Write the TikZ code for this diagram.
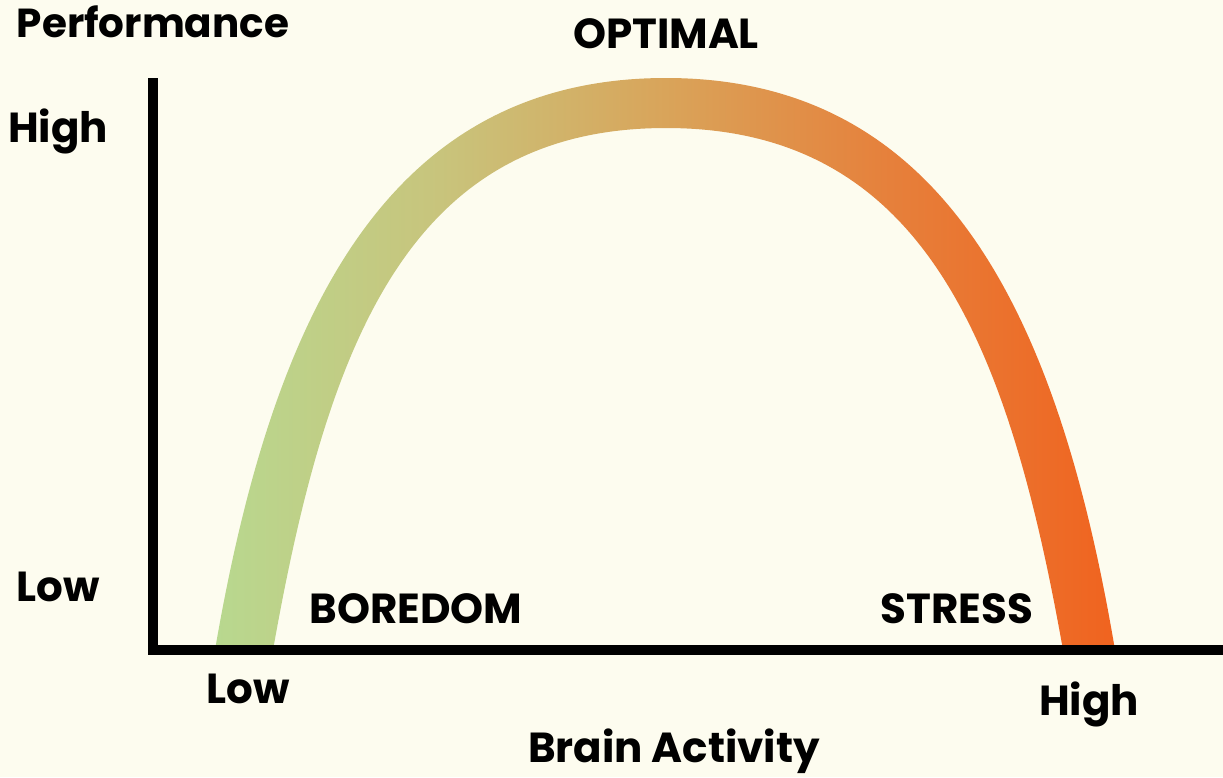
\documentclass[tikz,border=0pt]{standalone}
\usepackage{fontspec}
\setmainfont{Poppins}
\usetikzlibrary{positioning}
\definecolor{PaperCream}{HTML}{FDFCEF}
\definecolor{ArchGreen}{HTML}{B8D88F}
\definecolor{ArchOlive}{HTML}{C8C47C}
\definecolor{ArchTan}{HTML}{D9A45A}
\definecolor{ArchOrange}{HTML}{E6803B}
\definecolor{ArchRed}{HTML}{F0631F}
\pgfdeclarehorizontalshading{archgrad}{100bp}{color(0bp)=(ArchGreen); color(25bp)=(ArchGreen); color(37.5bp)=(ArchOlive); color(50bp)=(ArchTan); color(62.5bp)=(ArchOrange); color(75bp)=(ArchRed); color(100bp)=(ArchRed)}
\tikzset{
  axislabel/.style={font=\bfseries\fontsize{42}{48}\selectfont, inner sep=0pt, anchor=base, text=black},
  titlelabel/.style={axislabel, font=\bfseries\fontsize{40.5}{46}\selectfont},
  axisline/.style={line width=10pt, draw=black, line join=miter, line cap=butt}
}

\begin{document}
\begin{tikzpicture}[x=1pt, y=-1pt]
            \fill[PaperCream] (0,0) rectangle (1223,777);
            \useasboundingbox (0,0) rectangle (1223,777);
            % the curve
            \shade[shading=archgrad] (215,650) .. controls (272,318) and (385,78) .. (666,78)
                .. controls (946,78) and (1059,318) .. (1115,650) -- (1063,650)
                .. controls (1008,340) and (922,128) .. (666,128)
                .. controls (410,128) and (328,340) .. (273,650) -- cycle;
            % axes
            \coordinate (ytop) at (153,78);
            \coordinate (xend) at (1223,650);
            \draw [axisline] (ytop) |- (xend);
            % labels
            \node (perf) [titlelabel] at (153,37) {Performance};
            \node (yhigh) [axislabel] at (58,142) {High};
            \node (ylow) [axislabel] at (58,601) {Low};
            \node (optimal) [axislabel] at (666,48) {OPTIMAL};
            \node (boredom) [axislabel] at (416,623) {BOREDOM};
            \node (stress) [axislabel] at (957,623) {STRESS};
            \node (xlow) [axislabel] at (248,703) {Low};
            \node (xhigh) [axislabel] at (1089,715) {High};
            \node (brain) [axislabel] at (674,762) {Brain Activity};
        \end{tikzpicture}
\end{document}
